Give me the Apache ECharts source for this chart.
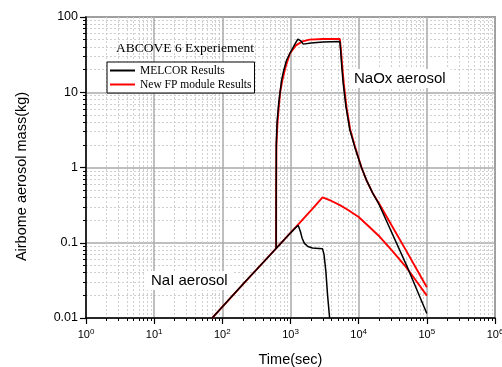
<!DOCTYPE html>
<html>
<head>
<meta charset="utf-8">
<script src="https://cdn.jsdelivr.net/npm/echarts@6/dist/echarts.min.js"></script>
<style>html,body{margin:0;padding:0;background:#fff}#c{width:502px;height:367px}</style>
</head>
<body>
<div id="c"></div>
<script>
// Data (time in seconds, mass in kg)
var melcorNaI = [[71,0.01],[200,0.028],[400,0.055],[615,0.084],[900,0.122],[1200,0.16],[1300,0.17],[1340,0.168],[1400,0.14],[1480,0.115],[1600,0.098],[1800,0.089],[2100,0.085],[2600,0.084],[2950,0.083],[3100,0.07],[3300,0.042],[3500,0.02],[3750,0.01]];
var melcorNaOx = [[615,0.084],[616,0.5],[619,2],[635,4],[670,7],[740,14.5],[800,20],[875,26.6],[1000,34],[1150,43],[1280,51],[1340,53.5],[1420,48],[1540,43.6],[2000,45],[3000,46.5],[5300,47.3],[5450,35],[5650,22],[5930,13.1],[6500,6.5],[7400,3.2],[8800,1.85],[11000,1.0],[13000,0.68],[16000,0.46],[20000,0.32],[52000,0.047],[100000,0.0115]];
var fpNaI = [[71,0.01],[200,0.028],[615,0.084],[1330,0.18],[2000,0.27],[2950,0.40],[4000,0.359],[5300,0.316],[7000,0.272],[10000,0.22],[14000,0.166],[20400,0.12],[30000,0.081],[50000,0.047],[70000,0.031],[100000,0.0198]];
var fpNaOx = [[615,0.084],[617,0.5],[622,2],[645,4],[670,6],[705,10],[760,14.5],[850,22],[980,32.7],[1200,42],[1500,47.5],[1900,50],[3000,51],[5300,51],[5500,36],[5750,22],[6050,13],[6600,6.5],[7500,3.2],[8900,1.85],[11000,1.0],[13000,0.68],[16000,0.46],[20000,0.33],[50000,0.078],[100000,0.0256]];
var legendNames = ['MELCOR Results','New FP module Results'];
var chartTitle = 'ABCOVE 6 Experiement';
var xTitle = 'Time(sec)';
var yTitle = 'Airbome aerosol mass(kg)';
var yTickLabels = {'0.01':'0.01','0.1':'0.1','1':'1','10':'10','100':'100'};
var annotations = ['NaOx aerosol', 'NaI aerosol'];

var chart = echarts.init(document.getElementById('c'), null, {renderer:'canvas'});
var sans = 'Liberation Sans, Arial, sans-serif';
var serif = 'Liberation Serif, Times New Roman, serif';

function logAxisCommon() {
  return {
    type: 'log', logBase: 10,
    axisLine: {show:true, lineStyle:{color:'#000', width:1.5}},
    axisTick: {show:true, inside:false, length:6, lineStyle:{color:'#000', width:1.2}},
    minorTick: {show:true, splitNumber:9, length:3, lineStyle:{color:'#000', width:1}},
    splitLine: {show:true, lineStyle:{color:'#aaaaaa', width:1.5}},
    minorSplitLine: {show:true, lineStyle:{color:'#d0d0d0', width:1, type:[2,2]}}
  };
}

var xAxis = Object.assign(logAxisCommon(), {
  min: 1, max: 1000000,
  name: xTitle, nameLocation: 'middle', nameGap: 34,
  nameTextStyle: {fontFamily: sans, fontSize: 14.5, color:'#000'},
  axisLabel: {
    margin: 10,
    formatter: function (v) { return '{b|10}{s|' + Math.round(Math.log10(v)) + '}'; },
    rich: {
      b: {fontFamily: sans, fontSize: 11, color:'#000'},
      s: {fontFamily: sans, fontSize: 8, color:'#000', verticalAlign:'top', padding:[0,0,6,0]}
    }
  }
});
var yAxis = Object.assign(logAxisCommon(), {
  min: 0.01, max: 100,
  name: yTitle, nameLocation: 'middle', nameGap: 57, nameRotate: 90,
  nameTextStyle: {fontFamily: sans, fontSize: 14.5, color:'#000', padding:[0,18,0,0]},
  axisLabel: {
    margin: 8, fontFamily: sans, fontSize: 12.5, color:'#000',
    formatter: function (v) { var k = String(+v.toPrecision(3)); return yTickLabels[k] || k; }
  }
});

function ser(name, data, color, w) {
  return {name: name, type:'line', data: data, showSymbol:false, symbol:'none',
    lineStyle:{color: color, width: w}, itemStyle:{color: color}, smooth:false, animation:false, clip:true};
}

chart.setOption({
  animation: false,
  backgroundColor: '#fff',
  grid: {left: 86, right: 7, top: 17, bottom: 49, containLabel: false, outerBoundsMode: 'none',
    show: true, borderColor: '#555', borderWidth: 1.5, backgroundColor:'transparent'},
  title: {text: chartTitle, left: 111, top: 36, textStyle:{fontFamily: serif, fontSize: 13.5, fontWeight:'normal', color:'#000'}},
  legend: {
    data: legendNames, orient:'vertical', left: 107, top: 62,
    backgroundColor:'#fff', borderColor:'#000', borderWidth: 1, padding:[2,3,2,3],
    itemWidth: 25, itemHeight: 2, itemGap: 1, icon: 'rect',
    textStyle:{fontFamily: serif, fontSize: 11.5, color:'#000', lineHeight: 13}
  },
  xAxis: xAxis,
  yAxis: yAxis,
  series: [
    ser(legendNames[1], fpNaI, '#ff0000', 1.9),
    ser(legendNames[1], fpNaOx, '#ff0000', 1.9),
    ser(legendNames[0], melcorNaI, '#000000', 1.5),
    ser(legendNames[0], melcorNaOx, '#000000', 1.5)
  ],
  graphic: [
    {type:'text', left: 349, top: 69, z: 10, style:{text: annotations[0], font:'15px ' + sans, fill:'#000', backgroundColor:'#fff', padding:[2,5]}},
    {type:'text', left: 146, top: 271, z: 10, style:{text: annotations[1], font:'15px ' + sans, fill:'#000', backgroundColor:'#fff', padding:[2,5]}}
  ]
});
</script>
</body>
</html>
